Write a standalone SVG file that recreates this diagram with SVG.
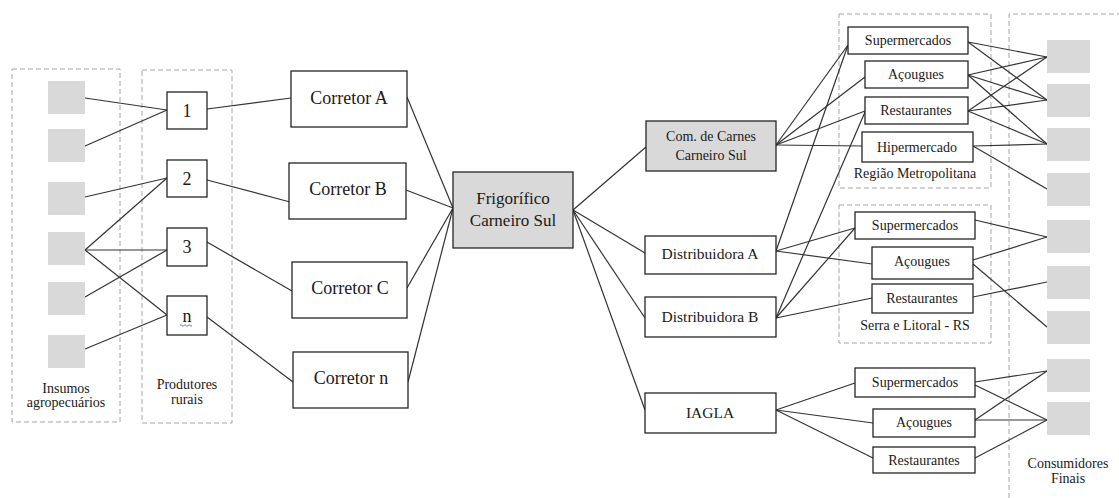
<svg xmlns="http://www.w3.org/2000/svg" width="1119" height="498" viewBox="0 0 1119 498">
<style>
.bg{fill:#ffffff}
.grp{fill:none;stroke:#a6a6a6;stroke-width:1;stroke-dasharray:5 3}
.box{fill:#ffffff;stroke:#262626;stroke-width:1.3}
.gbox{fill:#d9d9d9;stroke:#262626;stroke-width:1.3}
.sq{fill:#d9d9d9;stroke:none}
.ln{stroke:#333333;stroke-width:1.2;fill:none}
text{fill:#1a1a1a;text-anchor:middle}
.t18{font-size:18px}
.t17{font-size:17px}
.t16{font-size:15.5px}
.t14{font-size:14px}
</style>
<rect class="bg" x="0" y="0" width="1119" height="498"/>

<g font-family="'Liberation Serif', 'DejaVu Serif', serif">
<g id="groups">
<rect class="grp" x="12" y="69" width="108" height="353"/>
<rect class="grp" x="142" y="70" width="90" height="353"/>
<rect class="grp" x="839" y="14" width="152" height="174"/>
<rect class="grp" x="839" y="205" width="152" height="138"/>
<path class="grp" d="M1009,498 V14 H1119"/>
<text class="t14" x="66" y="393">Insumos</text>
<text class="t14" x="66" y="407">agropecuários</text>
<text class="t14" x="187" y="389">Produtores</text>
<text class="t14" x="187" y="404">rurais</text>
<text class="t14" x="915" y="178">Região Metropolitana</text>
<text class="t14" x="915" y="330">Serra e Litoral - RS</text>
<text class="t14" x="1068" y="468">Consumidores</text>
<text class="t14" x="1068" y="483">Finais</text>
</g>

<g id="connectors">
<line class="ln" x1="85" y1="98" x2="167" y2="110"/>
<line class="ln" x1="85" y1="146" x2="167" y2="110"/>
<line class="ln" x1="85" y1="197" x2="167" y2="178"/>
<line class="ln" x1="85" y1="250" x2="167" y2="178"/>
<line class="ln" x1="85" y1="250" x2="167" y2="250"/>
<line class="ln" x1="85" y1="250" x2="167" y2="315"/>
<line class="ln" x1="85" y1="297" x2="167" y2="250"/>
<line class="ln" x1="85" y1="349" x2="167" y2="315"/>
<line class="ln" x1="207" y1="109" x2="291" y2="98"/>
<line class="ln" x1="207" y1="180" x2="290" y2="202"/>
<line class="ln" x1="207" y1="242" x2="292" y2="291"/>
<line class="ln" x1="207" y1="317" x2="293" y2="382"/>
<line class="ln" x1="407" y1="97" x2="453" y2="208"/>
<line class="ln" x1="406" y1="190" x2="453" y2="208"/>
<line class="ln" x1="407" y1="288" x2="453" y2="208"/>
<line class="ln" x1="408" y1="382" x2="453" y2="208"/>
<line class="ln" x1="573" y1="210" x2="646" y2="147"/>
<line class="ln" x1="573" y1="210" x2="645" y2="253"/>
<line class="ln" x1="573" y1="210" x2="645" y2="318"/>
<line class="ln" x1="573" y1="210" x2="645" y2="410"/>
<line class="ln" x1="776" y1="145" x2="848" y2="45"/>
<line class="ln" x1="776" y1="145" x2="865" y2="77"/>
<line class="ln" x1="776" y1="145" x2="865" y2="111"/>
<line class="ln" x1="776" y1="145" x2="862" y2="146"/>
<line class="ln" x1="776" y1="251" x2="848" y2="45"/>
<line class="ln" x1="776" y1="251" x2="855" y2="228"/>
<line class="ln" x1="776" y1="251" x2="872" y2="264"/>
<line class="ln" x1="776" y1="318" x2="865" y2="112"/>
<line class="ln" x1="776" y1="318" x2="855" y2="228"/>
<line class="ln" x1="776" y1="318" x2="872" y2="298"/>
<line class="ln" x1="776" y1="410" x2="855" y2="383"/>
<line class="ln" x1="776" y1="410" x2="873" y2="423"/>
<line class="ln" x1="776" y1="410" x2="873" y2="458"/>
<line class="ln" x1="968" y1="42" x2="1047" y2="57"/>
<line class="ln" x1="968" y1="42" x2="1047" y2="100"/>
<line class="ln" x1="968" y1="75" x2="1047" y2="57"/>
<line class="ln" x1="968" y1="75" x2="1047" y2="100"/>
<line class="ln" x1="968" y1="75" x2="1047" y2="144"/>
<line class="ln" x1="968" y1="111" x2="1047" y2="57"/>
<line class="ln" x1="968" y1="111" x2="1047" y2="100"/>
<line class="ln" x1="968" y1="111" x2="1047" y2="144"/>
<line class="ln" x1="973" y1="146" x2="1047" y2="144"/>
<line class="ln" x1="973" y1="146" x2="1047" y2="189"/>
<line class="ln" x1="975" y1="220" x2="1047" y2="237"/>
<line class="ln" x1="973" y1="260" x2="1047" y2="237"/>
<line class="ln" x1="973" y1="264" x2="1047" y2="327"/>
<line class="ln" x1="973" y1="297" x2="1047" y2="282"/>
<line class="ln" x1="975" y1="382" x2="1047" y2="371"/>
<line class="ln" x1="975" y1="385" x2="1047" y2="420"/>
<line class="ln" x1="975" y1="420" x2="1047" y2="371"/>
<line class="ln" x1="975" y1="420" x2="1047" y2="420"/>
<line class="ln" x1="975" y1="458" x2="1047" y2="420"/>
</g>

<g id="insumos">
<rect class="sq" x="48" y="81" width="37" height="33"/>
<rect class="sq" x="48" y="129" width="37" height="33"/>
<rect class="sq" x="48" y="182" width="37" height="33"/>
<rect class="sq" x="48" y="232" width="37" height="33"/>
<rect class="sq" x="48" y="282" width="37" height="33"/>
<rect class="sq" x="48" y="335" width="37" height="33"/>
</g>

<g id="consumidores">
<rect class="sq" x="1047" y="40" width="43" height="33"/>
<rect class="sq" x="1047" y="84" width="43" height="33"/>
<rect class="sq" x="1047" y="128" width="43" height="33"/>
<rect class="sq" x="1047" y="173" width="43" height="33"/>
<rect class="sq" x="1047" y="220" width="43" height="33"/>
<rect class="sq" x="1047" y="266" width="43" height="33"/>
<rect class="sq" x="1047" y="311" width="43" height="33"/>
<rect class="sq" x="1047" y="359" width="43" height="33"/>
<rect class="sq" x="1047" y="402" width="43" height="33"/>
</g>

<g id="p1"><rect class="box" x="167" y="92" width="40" height="37"/><text class="t18" x="187" y="117">1</text></g>
<g id="p2"><rect class="box" x="167" y="160" width="40" height="37"/><text class="t18" x="187" y="185">2</text></g>
<g id="p3"><rect class="box" x="167" y="228" width="40" height="38"/><text class="t18" x="187" y="253">3</text></g>
<g id="pn"><rect class="box" x="167" y="296" width="40" height="39"/><text class="t18" x="187" y="322">n</text>
<path d="M180,325.5 q1,-1.5 2,0 t2,0 t2,0 t2,0 t2,0 t2,0" fill="none" stroke="#4a6fd8" stroke-width="0.9"/></g>

<g id="corretorA"><rect class="box" x="291" y="71" width="116" height="56"/><text class="t18" x="349" y="104">Corretor A</text></g>
<g id="corretorB"><rect class="box" x="289" y="163" width="117" height="56"/><text class="t18" x="348" y="195">Corretor B</text></g>
<g id="corretorC"><rect class="box" x="292" y="262" width="115" height="56"/><text class="t18" x="350" y="294">Corretor C</text></g>
<g id="corretorN"><rect class="box" x="293" y="352" width="115" height="56"/><text class="t18" x="351" y="384">Corretor n</text></g>

<g id="frigorifico"><rect class="gbox" x="453" y="172" width="120" height="76"/>
<text class="t17" x="513" y="204">Frigorífico</text>
<text class="t17" x="513" y="226">Carneiro Sul</text></g>

<g id="comcarnes"><rect class="gbox" x="646" y="121" width="130" height="50"/>
<text class="t14" x="711" y="141">Com. de Carnes</text>
<text class="t14" x="711" y="160">Carneiro Sul</text></g>

<g id="distA"><rect class="box" x="645" y="236" width="131" height="38"/><text class="t16" x="710" y="259">Distribuidora A</text></g>
<g id="distB"><rect class="box" x="645" y="297" width="131" height="40"/><text class="t16" x="710" y="322">Distribuidora B</text></g>
<g id="iagla"><rect class="box" x="645" y="393" width="131" height="40"/><text class="t16" x="710" y="418">IAGLA</text></g>

<g id="rm-super"><rect class="box" x="848" y="27" width="120" height="27"/><text class="t14" x="908" y="45">Supermercados</text></g>
<g id="rm-acougues"><rect class="box" x="865" y="61" width="103" height="27"/><text class="t14" x="916" y="79">Açougues</text></g>
<g id="rm-rest"><rect class="box" x="865" y="97" width="103" height="27"/><text class="t14" x="916" y="115">Restaurantes</text></g>
<g id="rm-hiper"><rect class="box" x="862" y="132" width="111" height="30"/><text class="t14" x="917" y="152">Hipermercado</text></g>

<g id="sl-super"><rect class="box" x="855" y="212" width="120" height="27"/><text class="t14" x="915" y="230">Supermercados</text></g>
<g id="sl-acougues"><rect class="box" x="872" y="247" width="101" height="32"/><text class="t14" x="922" y="266">Açougues</text></g>
<g id="sl-rest"><rect class="box" x="872" y="284" width="101" height="29"/><text class="t14" x="922" y="303">Restaurantes</text></g>

<g id="ia-super"><rect class="box" x="855" y="368" width="120" height="29"/><text class="t14" x="915" y="387">Supermercados</text></g>
<g id="ia-acougues"><rect class="box" x="873" y="409" width="102" height="28"/><text class="t14" x="924" y="427">Açougues</text></g>
<g id="ia-rest"><rect class="box" x="873" y="447" width="102" height="26"/><text class="t14" x="924" y="465">Restaurantes</text></g>
</g>
</svg>
